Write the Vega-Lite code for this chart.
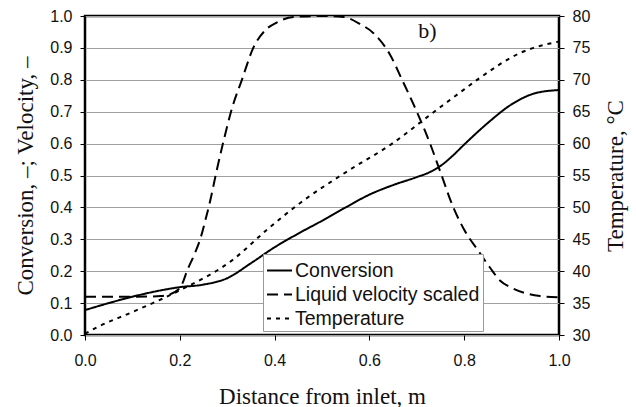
{
  "$schema": "https://vega.github.io/schema/vega-lite/v6.json",
  "width": 474,
  "height": 319,
  "autosize": {"type": "none"},
  "padding": {"left": 85, "top": 16, "right": 77, "bottom": 72},
  "background": "white",
  "config": {
    "view": {"stroke": "black", "strokeWidth": 2.5},
    "axis": {
      "domain": false,
      "labelFont": "Liberation Sans",
      "labelFontSize": 16,
      "labelColor": "#111",
      "labelOverlap": false,
      "labelFlush": false,
      "titleFont": "Liberation Serif",
      "titleFontSize": 23,
      "titleFontWeight": "normal",
      "titleColor": "#111",
      "tickColor": "black",
      "tickSize": 5,
      "tickWidth": 1
    },
    "legend": {
      "labelFont": "Liberation Sans",
      "labelFontSize": 19.5,
      "labelColor": "#111",
      "labelLimit": 400
    }
  },
  "data": {
    "values": [
      {"x": 0.0, "series": "Conversion", "value": 0.078},
      {"x": 0.05, "series": "Conversion", "value": 0.1},
      {"x": 0.1, "series": "Conversion", "value": 0.12},
      {"x": 0.15, "series": "Conversion", "value": 0.137},
      {"x": 0.2, "series": "Conversion", "value": 0.15},
      {"x": 0.25, "series": "Conversion", "value": 0.158},
      {"x": 0.3, "series": "Conversion", "value": 0.178},
      {"x": 0.35, "series": "Conversion", "value": 0.225},
      {"x": 0.4, "series": "Conversion", "value": 0.275},
      {"x": 0.45, "series": "Conversion", "value": 0.318},
      {"x": 0.5, "series": "Conversion", "value": 0.358},
      {"x": 0.55, "series": "Conversion", "value": 0.4},
      {"x": 0.6, "series": "Conversion", "value": 0.44},
      {"x": 0.65, "series": "Conversion", "value": 0.47},
      {"x": 0.7, "series": "Conversion", "value": 0.495},
      {"x": 0.725, "series": "Conversion", "value": 0.509},
      {"x": 0.75, "series": "Conversion", "value": 0.53},
      {"x": 0.775, "series": "Conversion", "value": 0.561},
      {"x": 0.8, "series": "Conversion", "value": 0.597},
      {"x": 0.85, "series": "Conversion", "value": 0.665},
      {"x": 0.9, "series": "Conversion", "value": 0.723},
      {"x": 0.95, "series": "Conversion", "value": 0.758},
      {"x": 1.0, "series": "Conversion", "value": 0.768},

      {"x": 0.0, "series": "Liquid velocity scaled", "value": 0.12},
      {"x": 0.1, "series": "Liquid velocity scaled", "value": 0.12},
      {"x": 0.16, "series": "Liquid velocity scaled", "value": 0.122},
      {"x": 0.19, "series": "Liquid velocity scaled", "value": 0.135},
      {"x": 0.205, "series": "Liquid velocity scaled", "value": 0.16},
      {"x": 0.215, "series": "Liquid velocity scaled", "value": 0.2},
      {"x": 0.23, "series": "Liquid velocity scaled", "value": 0.25},
      {"x": 0.243, "series": "Liquid velocity scaled", "value": 0.3},
      {"x": 0.254, "series": "Liquid velocity scaled", "value": 0.36},
      {"x": 0.264, "series": "Liquid velocity scaled", "value": 0.42},
      {"x": 0.277, "series": "Liquid velocity scaled", "value": 0.51},
      {"x": 0.291, "series": "Liquid velocity scaled", "value": 0.6},
      {"x": 0.31, "series": "Liquid velocity scaled", "value": 0.71},
      {"x": 0.331, "series": "Liquid velocity scaled", "value": 0.8},
      {"x": 0.355, "series": "Liquid velocity scaled", "value": 0.9},
      {"x": 0.38, "series": "Liquid velocity scaled", "value": 0.955},
      {"x": 0.405, "series": "Liquid velocity scaled", "value": 0.98},
      {"x": 0.44, "series": "Liquid velocity scaled", "value": 0.997},
      {"x": 0.5, "series": "Liquid velocity scaled", "value": 1.0},
      {"x": 0.545, "series": "Liquid velocity scaled", "value": 0.997},
      {"x": 0.58, "series": "Liquid velocity scaled", "value": 0.975},
      {"x": 0.608, "series": "Liquid velocity scaled", "value": 0.947},
      {"x": 0.643, "series": "Liquid velocity scaled", "value": 0.88},
      {"x": 0.669, "series": "Liquid velocity scaled", "value": 0.8},
      {"x": 0.7, "series": "Liquid velocity scaled", "value": 0.7},
      {"x": 0.728, "series": "Liquid velocity scaled", "value": 0.6},
      {"x": 0.75, "series": "Liquid velocity scaled", "value": 0.51},
      {"x": 0.777, "series": "Liquid velocity scaled", "value": 0.4},
      {"x": 0.8, "series": "Liquid velocity scaled", "value": 0.33},
      {"x": 0.833, "series": "Liquid velocity scaled", "value": 0.257},
      {"x": 0.855, "series": "Liquid velocity scaled", "value": 0.21},
      {"x": 0.876, "series": "Liquid velocity scaled", "value": 0.17},
      {"x": 0.9, "series": "Liquid velocity scaled", "value": 0.148},
      {"x": 0.932, "series": "Liquid velocity scaled", "value": 0.13},
      {"x": 0.96, "series": "Liquid velocity scaled", "value": 0.122},
      {"x": 1.0, "series": "Liquid velocity scaled", "value": 0.118},

      {"x": 0.0, "series": "Temperature", "value": 30.2},
      {"x": 0.025, "series": "Temperature", "value": 31.2},
      {"x": 0.1, "series": "Temperature", "value": 33.6},
      {"x": 0.2, "series": "Temperature", "value": 37.0},
      {"x": 0.312, "series": "Temperature", "value": 41.8},
      {"x": 0.384, "series": "Temperature", "value": 46.5},
      {"x": 0.454, "series": "Temperature", "value": 50.7},
      {"x": 0.55, "series": "Temperature", "value": 55.5},
      {"x": 0.65, "series": "Temperature", "value": 60.1},
      {"x": 0.728, "series": "Temperature", "value": 64.5},
      {"x": 0.8, "series": "Temperature", "value": 68.5},
      {"x": 0.833, "series": "Temperature", "value": 70.3},
      {"x": 0.918, "series": "Temperature", "value": 74.2},
      {"x": 1.0, "series": "Temperature", "value": 76.0}
    ]
  },
  "encoding": {
    "x": {
      "field": "x",
      "type": "quantitative",
      "scale": {"domain": [0, 1], "nice": false},
      "axis": {
        "title": "Distance from inlet, m",
        "values": [0, 0.2, 0.4, 0.6, 0.8, 1.0],
        "format": ".1f",
        "grid": false,
        "labelPadding": 12,
        "titleY": 68,
        "titleBaseline": "alphabetic"
      }
    }
  },
  "layer": [
    {
      "transform": [{"filter": "datum.series !== 'Temperature'"}],
      "mark": {"type": "line", "color": "black", "strokeWidth": 2, "interpolate": "monotone"},
      "encoding": {
        "y": {
          "field": "value",
          "type": "quantitative",
          "scale": {"domain": [0, 1], "nice": false},
          "axis": {
            "title": "Conversion, –; Velocity, –",
            "values": [0, 0.1, 0.2, 0.3, 0.4, 0.5, 0.6, 0.7, 0.8, 0.9, 1.0],
            "format": ".1f",
            "grid": true,
            "gridColor": "#a0a0a0",
            "gridWidth": 1,
            "labelPadding": 8,
            "titleX": -53,
            "titleBaseline": "alphabetic",
            "titleAngle": -90
          }
        },
        "strokeDash": {
          "field": "series",
          "type": "nominal",
          "scale": {
            "domain": ["Conversion", "Liquid velocity scaled", "Temperature"],
            "range": [[1, 0], [11, 6], [4, 5]]
          },
          "legend": {
            "title": null,
            "orient": "none",
            "legendX": 178,
            "legendY": 238,
            "fillColor": "white",
            "strokeColor": "#999",
            "padding": 3,
            "symbolType": "stroke",
            "symbolSize": 625,
            "symbolStrokeWidth": 2,
            "symbolStrokeColor": "black",
            "labelOffset": 2,
            "rowPadding": 1
          }
        }
      }
    },
    {
      "transform": [{"filter": "datum.series === 'Temperature'"}],
      "mark": {"type": "line", "color": "black", "strokeWidth": 2, "interpolate": "monotone"},
      "encoding": {
        "y": {
          "field": "value",
          "type": "quantitative",
          "scale": {"domain": [30, 80], "nice": false},
          "axis": {
            "orient": "right",
            "title": "Temperature, °C",
            "values": [30, 35, 40, 45, 50, 55, 60, 65, 70, 75, 80],
            "grid": false,
            "labelPadding": 8,
            "titleX": 63,
            "titleBaseline": "alphabetic",
            "titleAngle": -90
          }
        },
        "strokeDash": {"field": "series", "type": "nominal"}
      }
    },
    {
      "transform": [{"filter": "datum.series === 'Conversion' && datum.x === 0"}],
      "mark": {"type": "text", "font": "Liberation Serif", "fontSize": 22, "fontWeight": "normal", "align": "left", "baseline": "alphabetic", "fill": "#111"},
      "encoding": {
        "x": {"datum": 0.703, "type": "quantitative"},
        "y": {"datum": 0.93, "type": "quantitative", "scale": {"domain": [0, 1], "nice": false}, "axis": null},
        "text": {"value": "b)"}
      }
    }
  ],
  "resolve": {"scale": {"y": "independent"}}
}
